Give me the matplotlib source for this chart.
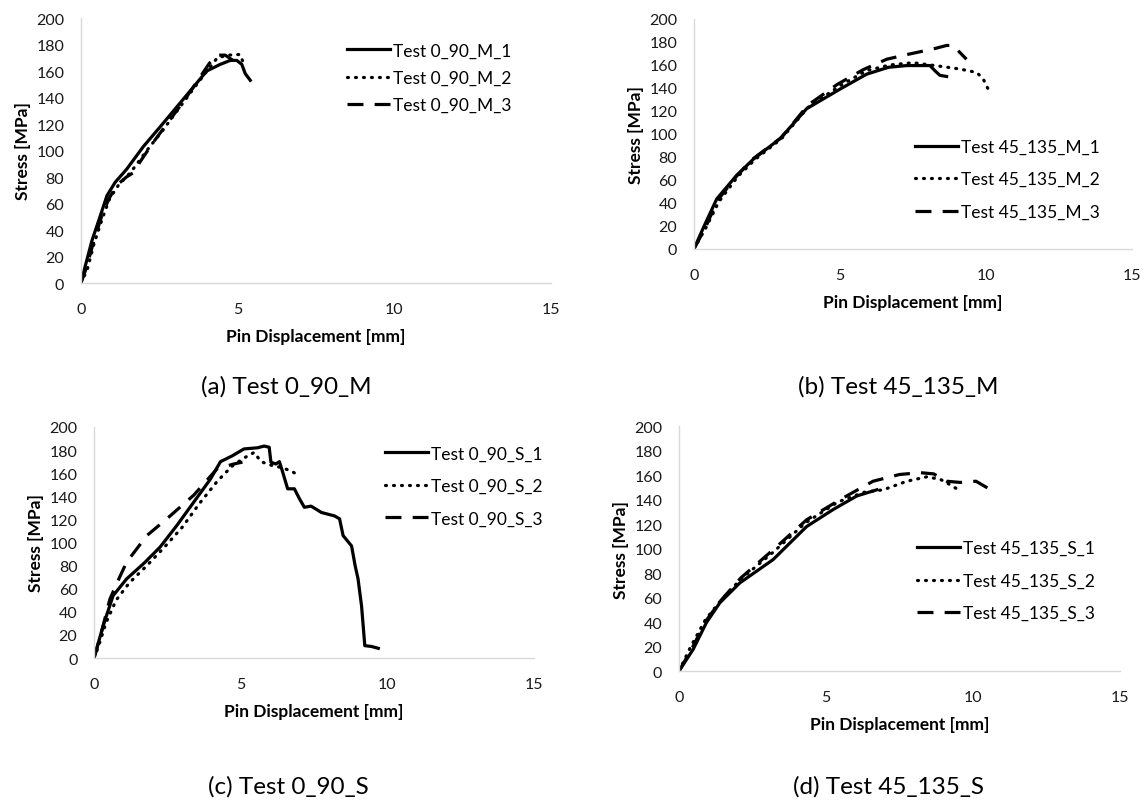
import matplotlib
matplotlib.use('Agg')
import matplotlib.pyplot as plt

plt.rcParams['font.family'] = ['Lato', 'DejaVu Sans']

# (a) Test 0_90_M
a1_x = [0, 0.15, 0.35, 0.62, 0.83, 1.09, 1.46, 1.99, 2.53, 3.06, 3.59, 4.01, 4.44, 4.76, 4.97, 5.13, 5.24, 5.40]
a1_y = [0, 14, 32, 51, 66, 76, 86, 103, 118, 133, 148, 160, 165, 168, 168, 165, 158, 153]
a2_x = [0, 0.2, 0.42, 0.7, 0.92, 1.2, 1.6, 2.1, 2.6, 3.1, 3.6, 4.05, 4.35, 4.7, 5.07, 5.15, 5.2]
a2_y = [0, 10, 30, 50, 64, 74, 84, 100, 115, 131, 147, 161, 170, 172, 172.5, 168, 164]
a3_x = [0, 0.18, 0.4, 0.68, 0.9, 1.15, 1.45, 1.65, 1.9, 2.3, 2.8, 3.3, 3.7, 4.1, 4.38, 4.6, 4.85]
a3_y = [0, 12, 31, 52, 64, 74, 80, 83, 92, 106, 122, 138, 152, 166, 172, 172, 168]

# (b) Test 45_135_M
b1_x = [0, 0.35, 0.78, 1.46, 2.03, 2.95, 3.86, 5.0, 5.91, 6.66, 7.28, 8.08, 8.25, 8.42, 8.65]
b1_y = [0, 20, 43.5, 64, 78, 96, 122, 139, 152, 158, 159.5, 159.5, 155, 151, 150]
b2_x = [0, 0.4, 0.85, 1.5, 2.1, 3.0, 3.9, 5.0, 5.9, 6.7, 7.5, 8.4, 9.1, 9.68, 9.9, 10.13]
b2_y = [0, 18, 41, 63, 78, 96, 123, 142, 155, 160, 162, 159, 156.5, 153.5, 148, 136]
b3_x = [0, 0.4, 0.8, 1.45, 2.0, 3.0, 3.9, 4.9, 5.8, 6.6, 7.28, 8.2, 8.65, 8.88, 9.1, 9.33]
b3_y = [0, 19, 42, 63, 78, 97, 125, 143, 156, 165, 169, 174, 177, 177, 171, 165]

# (c) Test 0_90_S
c1_x = [0, 0.31, 0.65, 1.11, 1.7, 2.25, 2.83, 3.4, 3.97, 4.31, 4.71, 5.11, 5.57, 5.8, 5.97, 6.03,
        6.2, 6.32, 6.43, 6.6, 6.83, 7.0, 7.17, 7.4, 7.75, 8.2, 8.37, 8.49, 8.78, 8.9, 9.0, 9.12,
        9.23, 9.46, 9.69]
c1_y = [0, 28, 54, 68.5, 82, 96, 115, 135, 155, 170, 175, 181, 182, 183.5, 182.5, 169.5,
        168, 170, 161, 146.5, 146.5, 138, 130.5, 131.5, 126, 123, 120.5, 106, 97, 80, 68.5, 45,
        10.7, 10, 8.4]
c2_x = [0, 0.15, 0.4, 0.75, 1.2, 1.8, 2.4, 3.0, 3.6, 4.2, 4.7, 5.1, 5.46, 5.69, 6.03, 6.37, 6.72, 7.0]
c2_y = [0, 10, 30, 50, 65, 80, 96, 113, 134, 153, 166, 173, 178, 170, 167, 165, 162, 157.5]
c3_x = [0, 0.25, 0.54, 0.8, 1.11, 1.8, 2.48, 3.4, 4.2, 4.77, 5.06]
c3_y = [0, 22, 51, 66, 83, 106, 120.5, 141, 164, 168, 169.6]

# (d) Test 45_135_S
d1_x = [0, 0.48, 0.93, 1.39, 2.07, 3.2, 4.34, 5.25, 6.05, 6.73]
d1_y = [0, 17.7, 39.5, 55.8, 72, 91, 118, 132, 143, 148]
d2_x = [0, 0.4, 0.9, 1.4, 2.1, 3.2, 4.3, 5.4, 6.3, 6.95, 7.75, 8.43, 8.89, 9.23, 9.5]
d2_y = [0, 20, 42, 57, 75, 97, 121, 138, 146, 148, 155, 158.6, 156.5, 152, 148]
d3_x = [0, 0.45, 0.92, 1.4, 2.1, 3.2, 4.34, 5.48, 6.6, 7.5, 8.2, 8.66, 9.1, 9.57, 10.1, 10.6]
d3_y = [0, 19, 41, 57, 76, 99, 123.5, 140, 155, 160.5, 162, 161, 155, 154, 155, 148]

panels = [
    ('(a) Test 0_90_M', 'Test 0_90_M_', [(a1_x, a1_y), (a2_x, a2_y), (a3_x, a3_y)]),
    ('(b) Test 45_135_M', 'Test 45_135_M_', [(b1_x, b1_y), (b2_x, b2_y), (b3_x, b3_y)]),
    ('(c) Test 0_90_S', 'Test 0_90_S_', [(c1_x, c1_y), (c2_x, c2_y), (c3_x, c3_y)]),
    ('(d) Test 45_135_S', 'Test 45_135_S_', [(d1_x, d1_y), (d2_x, d2_y), (d3_x, d3_y)]),
]

# axes rectangles in figure fractions
rects = [[0.0706, 0.6463, 0.410, 0.330],
         [0.605, 0.6887, 0.382, 0.2864],
         [0.0820, 0.1793, 0.3836, 0.2877],
         [0.592, 0.1631, 0.3845, 0.305]]
# legend anchor (upper left, figure fractions) and row spacing
legend_pos = [(0.3025, 0.946, 0.66), (0.7977, 0.826, 0.95), (0.3357, 0.444, 0.95), (0.7995, 0.326, 0.95)]
caption_pos = [(0.250, 0.518), (0.783, 0.518), (0.251, 0.020), (0.775, 0.020)]

styles = [dict(linestyle='-'),
          dict(linestyle=(0, (0.3, 2.2)), dash_capstyle='round'),
          dict(linestyle=(0, (5, 3.5)))]

fig = plt.figure(figsize=(11.47, 8.03), dpi=100)

for i, (caption, prefix, series) in enumerate(panels):
    ax = fig.add_axes(rects[i])
    for j, (x, y) in enumerate(series):
        ax.plot(x, y, color='black', lw=2.3, label=prefix + str(j + 1), **styles[j])
    ax.set_xlim(0, 15)
    ax.set_ylim(0, 200)
    ax.set_xticks([0, 5, 10, 15])
    ax.set_yticks(range(0, 201, 20))
    ax.tick_params(length=0, labelsize=11.5, colors='#1a1a1a')
    ax.tick_params(axis='x', pad=14)
    ax.tick_params(axis='y', pad=12)
    for s in ['top', 'right']:
        ax.spines[s].set_visible(False)
    for s in ['left', 'bottom']:
        ax.spines[s].set_color('#d9d9d9')
        ax.spines[s].set_linewidth(1.0)
    ax.set_xlabel('Pin Displacement [mm]', fontsize=12.5, fontweight='bold', labelpad=8)
    ax.set_ylabel('Stress [MPa]', fontsize=12.5, fontweight='bold', labelpad=4)
    lx, ly, sp = legend_pos[i]
    fig.legend(*ax.get_legend_handles_labels(), loc='upper left', bbox_to_anchor=(lx, ly),
               frameon=False, fontsize=12.5, handlelength=2.5, handletextpad=0.15,
               labelspacing=sp, borderpad=0, borderaxespad=0)
    fig.text(caption_pos[i][0], caption_pos[i][1], caption, fontsize=17.5, ha='center', va='center')

fig.savefig('out.png', dpi=100)
